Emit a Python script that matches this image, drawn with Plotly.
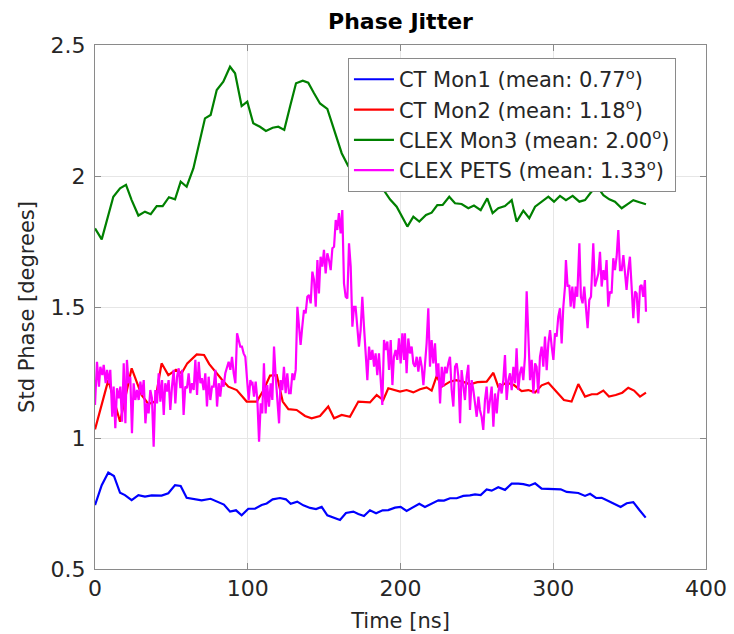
import plotly.graph_objects as go

# ---------------- data ----------------
mon1_t = [0, 4.4, 8.7, 12.4, 16.4, 19.6, 24, 28.4, 32.7, 37.1, 43.6, 48, 52.4, 56.1, 60,
          64.4, 69.8, 75.7, 80.7, 84.4, 88.4, 92.3, 96, 100.4, 104.7, 109.1, 112.4, 116.3,
          121.1, 125, 128.1, 132.4, 136.4, 140.8, 144.7, 148.4, 152.1, 156.5, 160.4, 164.3,
          169.1, 172.4, 176.1, 180, 184, 188.3, 192, 196.4, 200.1, 204, 208.4, 212.3, 216,
          220.4, 224.8, 228.5, 232.4, 236.8, 241.1, 245.5, 248.8, 252.5, 256.4, 259.7, 264,
          268.4, 272.8, 277.1, 280.4, 284.3, 288.1, 292.4, 296.8, 300.5, 304.9, 308.8, 313.2,
          316.4, 320.8, 324.1, 328, 331.7, 336.1, 340.5, 344.1, 348.1, 352.4, 356.4, 360.5]
mon1_v = [0.744, 0.82, 0.868, 0.855, 0.791, 0.782, 0.763, 0.782, 0.776, 0.781, 0.78, 0.789,
          0.82, 0.817, 0.772, 0.768, 0.762, 0.768, 0.755, 0.746, 0.719, 0.724, 0.705, 0.73,
          0.73, 0.744, 0.75, 0.766, 0.771, 0.766, 0.749, 0.757, 0.743, 0.733, 0.729, 0.737,
          0.705, 0.694, 0.687, 0.714, 0.719, 0.71, 0.702, 0.724, 0.713, 0.724, 0.725, 0.734,
          0.737, 0.722, 0.735, 0.749, 0.737, 0.749, 0.762, 0.761, 0.77, 0.77, 0.779, 0.781,
          0.785, 0.782, 0.804, 0.799, 0.812, 0.802, 0.826, 0.826, 0.824, 0.818, 0.827, 0.807,
          0.805, 0.804, 0.804, 0.794, 0.791, 0.79, 0.779, 0.787, 0.771, 0.772, 0.76, 0.748,
          0.737, 0.751, 0.755, 0.725, 0.696]

mon2_t = [0, 8.7, 16.4, 24, 30.5, 34.9, 39.3, 43.6, 48, 53, 56.7, 60.4, 66.6, 71.4, 74.8,
          78.6, 82.9, 87.3, 92.8, 99.3, 105.9, 110.2, 114.6, 119, 122.9, 126.6, 132, 137.5,
          141.8, 147.3, 152.7, 156.5, 161.5, 166.9, 172.4, 180, 184.4, 188.7, 192, 199.7, 204,
          208.4, 212.8, 217.1, 220.4, 223.7, 227, 232.4, 236.3, 240.7, 245.5, 250.3, 256.4,
          260.8, 264, 269.5, 274.3, 279.3, 283.7, 288.1, 292.4, 296.8, 302.3, 307, 312, 316.4,
          320.8, 325.2, 328.8, 332.8, 336.5, 340.9, 345.2, 349.1, 352.9, 356.8, 360.7]
mon2_v = [1.033, 1.221, 1.062, 1.266, 1.164, 1.130, 1.139, 1.285, 1.240, 1.260, 1.247, 1.285,
          1.319, 1.317, 1.282, 1.253, 1.224, 1.196, 1.183, 1.139, 1.139, 1.181, 1.238, 1.240,
          1.139, 1.110, 1.107, 1.084, 1.075, 1.084, 1.120, 1.075, 1.088, 1.081, 1.139, 1.136,
          1.164, 1.145, 1.190, 1.177, 1.183, 1.174, 1.186, 1.193, 1.181, 1.237, 1.196, 1.215,
          1.221, 1.215, 1.205, 1.213, 1.215, 1.249, 1.196, 1.211, 1.202, 1.179, 1.183, 1.174,
          1.201, 1.211, 1.177, 1.145, 1.139, 1.206, 1.158, 1.167, 1.167, 1.181, 1.158, 1.164,
          1.173, 1.192, 1.181, 1.158, 1.173]

mon3_t = [0, 4.4, 12, 16.4, 20.3, 24, 28.4, 32.7, 36.5, 40.4, 44.3, 48.4, 52.4, 56.1, 60,
          64.4, 72, 75.7, 79.7, 84, 88.4, 91.7, 96, 99.7, 103.6, 108, 111.9, 116.3, 120, 123.9,
          127.7, 131.6, 136, 139.6, 143.4, 147.3, 152.1, 157.1, 161.5, 165.8, 172, 180, 184.4,
          188.7, 193.1, 197.5, 204.5, 208.4, 212.3, 216.7, 220.4, 224.1, 227.6, 231.9, 235.7,
          240, 244.4, 248.1, 252.5, 256.8, 260.3, 264, 268.4, 272.8, 276, 280.4, 284.3, 288.1,
          292.4, 296.8, 300.5, 304.4, 308.3, 312.7, 317.1, 320.8, 324.5, 328.4, 332.8, 336.7,
          340.4, 344.8, 348.7, 352.4, 356.4, 360.7]
mon3_v = [1.800, 1.758, 1.921, 1.953, 1.966, 1.908, 1.849, 1.864, 1.854, 1.885, 1.885, 1.919,
          1.911, 1.978, 1.959, 2.029, 2.220, 2.233, 2.328, 2.360, 2.417, 2.392, 2.267, 2.284,
          2.201, 2.188, 2.172, 2.184, 2.188, 2.176, 2.265, 2.354, 2.364, 2.356, 2.316, 2.277,
          2.256, 2.163, 2.087, 2.038, 2.0, 1.959, 1.944, 1.949, 1.911, 1.883, 1.807, 1.845,
          1.826, 1.851, 1.860, 1.889, 1.890, 1.921, 1.896, 1.893, 1.877, 1.887, 1.870, 1.915,
          1.858, 1.877, 1.885, 1.908, 1.826, 1.868, 1.839, 1.883, 1.902, 1.921, 1.902, 1.924,
          1.908, 1.924, 1.902, 1.908, 1.936, 1.963, 1.927, 1.911, 1.902, 1.877, 1.893, 1.908,
          1.900, 1.892]

pets_samples = [
    (0, 1.126), (1.3, 1.291), (2.6, 1.196), (3.5, 1.272), (4.8, 1.240), (5.7, 1.279), (7.0, 1.209),
    (7.9, 1.260), (9.2, 1.209), (10.0, 1.260), (11.3, 1.081), (12.2, 1.196), (13.3, 1.037),
    (14.4, 1.190), (15.5, 1.151), (16.6, 1.196), (17.7, 1.062), (18.8, 1.285), (19.9, 1.056),
    (20.9, 1.298), (22.0, 1.209), (23.1, 1.234), (24.2, 1.018), (25.3, 1.209), (26.4, 1.145),
    (27.5, 1.183), (28.6, 1.145), (29.7, 1.215), (30.8, 1.164), (31.9, 1.221), (33.0, 1.056),
    (34.0, 1.132), (35.1, 1.094), (36.2, 1.183), (37.3, 1.151), (38.4, 0.967), (39.5, 1.183),
    (40.6, 1.132), (41.7, 1.247), (42.8, 1.139), (43.9, 1.221), (45.0, 1.088), (46.0, 1.209),
    (47.1, 1.177), (48.2, 1.221), (49.3, 1.107), (50.4, 1.196), (51.5, 1.260), (52.6, 1.132),
    (53.7, 1.234), (54.8, 1.266), (55.9, 1.190), (57.0, 1.260), (58.0, 1.088), (59.1, 1.196),
    (60.2, 1.190), (61.3, 1.247), (62.4, 1.171), (63.5, 1.209), (64.6, 1.183), (65.7, 1.298),
    (66.8, 1.164), (67.9, 1.291), (69.0, 1.209), (70.0, 1.228), (71.1, 1.183), (72.2, 1.247),
    (73.3, 1.120), (74.4, 1.234), (75.5, 1.145), (76.6, 1.196), (77.7, 1.196), (78.8, 1.260),
    (79.9, 1.120), (81.0, 1.209), (82.0, 1.158), (83.1, 1.221), (84.2, 1.196), (85.3, 1.247),
    (86.4, 1.266), (87.5, 1.291), (88.6, 1.260), (89.7, 1.310), (90.8, 1.247), (91.9, 1.209),
    (93.0, 1.400), (94.1, 1.374), (95.1, 1.349), (96.2, 1.349), (97.3, 1.323), (98.4, 1.310),
    (99.5, 1.234), (100.6, 1.145), (101.7, 1.221), (102.8, 1.202),
    (103.0, 1.215), (104.1, 1.158), (105.2, 1.215), (106.3, 1.145), (107.4, 0.986), (108.5, 1.132),
    (109.5, 1.094), (110.6, 1.285), (111.7, 1.094), (112.8, 1.202), (113.9, 1.120), (115.0, 1.209),
    (116.1, 1.145), (117.2, 1.349), (118.3, 1.234), (119.4, 1.145), (120.5, 1.056), (121.5, 1.221),
    (122.6, 1.183), (123.7, 1.272), (124.8, 1.171), (125.9, 1.247), (127.0, 1.171), (128.1, 1.171),
    (129.2, 1.247), (130.3, 1.221), (131.4, 1.260), (132.5, 1.501), (133.6, 1.425), (134.6, 1.355),
    (135.7, 1.425), (136.8, 1.488), (137.9, 1.476), (139.0, 1.539), (140.1, 1.546), (141.2, 1.514),
    (142.3, 1.635), (143.4, 1.603), (144.5, 1.501), (145.6, 1.679), (146.6, 1.552), (147.7, 1.692),
    (148.8, 1.654), (149.9, 1.718), (151.0, 1.628), (152.1, 1.705), (153.2, 1.679), (154.3, 1.641),
    (155.4, 1.724), (156.5, 1.730), (157.6, 1.832), (158.6, 1.794), (159.7, 1.858), (160.8, 1.781),
    (161.9, 1.870), (163.0, 1.590), (164.1, 1.539), (165.2, 1.533), (166.3, 1.743), (167.4, 1.654),
    (168.5, 1.425), (169.6, 1.501), (170.6, 1.501), (171.7, 1.425), (172.8, 1.349), (173.9, 1.412),
    (175.0, 1.539), (176.1, 1.425), (177.2, 1.336), (178.3, 1.221), (179.4, 1.349), (180.5, 1.298),
    (181.6, 1.336), (182.7, 1.272), (183.7, 1.323), (184.8, 1.240), (185.9, 1.323), (187.0, 1.234),
    (188.1, 1.126), (189.2, 1.374), (190.3, 1.336), (191.4, 1.368), (192.5, 1.260), (193.6, 1.374),
    (194.7, 1.202), (195.7, 1.310), (196.8, 1.336), (197.9, 1.298), (199.0, 1.380), (200.1, 1.285),
    (201.2, 1.400), (202.3, 1.298),
    (202.9, 1.400), (204.0, 1.247), (205.1, 1.380), (206.2, 1.323), (207.3, 1.349), (208.4, 1.285),
    (209.5, 1.272), (210.6, 1.310), (211.7, 1.253), (212.8, 1.310), (213.9, 1.272), (215.0, 1.202),
    (216.0, 1.285), (217.1, 1.361), (218.2, 1.495), (219.3, 1.272), (220.4, 1.374), (221.5, 1.285),
    (222.6, 1.361), (223.7, 1.234), (224.8, 1.285), (225.9, 1.132), (227.0, 1.272), (228.0, 1.196),
    (229.1, 1.272), (230.2, 1.247), (231.3, 1.285), (232.4, 1.310), (233.5, 1.183), (234.6, 1.120),
    (235.7, 1.272), (236.8, 1.285), (237.9, 1.234), (239.0, 1.056), (240.0, 1.259), (241.1, 1.196),
    (242.2, 1.145), (243.3, 1.234), (244.4, 1.279), (245.5, 1.107), (246.6, 1.221), (247.7, 1.183),
    (248.8, 1.132), (249.9, 1.081), (251.0, 1.158), (252.0, 1.107), (253.1, 1.081), (254.2, 1.031),
    (255.3, 1.145), (256.4, 1.196), (257.5, 1.094), (258.6, 1.145), (259.7, 1.196), (260.8, 1.043),
    (261.9, 1.170), (263.0, 1.094), (264.0, 1.170), (265.1, 1.209), (266.2, 1.170), (267.3, 1.221),
    (268.4, 1.317), (269.5, 1.145), (270.6, 1.221), (271.7, 1.247), (272.8, 1.183), (273.9, 1.272),
    (275.0, 1.209), (276.0, 1.342), (277.1, 1.183), (278.2, 1.247), (279.3, 1.272), (280.4, 1.221),
    (281.5, 1.310), (282.6, 1.560), (283.7, 1.374), (284.8, 1.221), (285.9, 1.298), (287.0, 1.170),
    (288.1, 1.285), (289.1, 1.272), (290.2, 1.170), (291.3, 1.310), (292.4, 1.349), (293.5, 1.272),
    (294.6, 1.387), (295.7, 1.259), (296.8, 1.361), (297.9, 1.412), (299.0, 1.349), (300.1, 1.298),
    (301.2, 1.400), (302.2, 1.387),
    (303.3, 1.463), (304.4, 1.495), (305.5, 1.361), (306.6, 1.501), (307.7, 1.578), (308.3, 1.679),
    (309.4, 1.578), (310.5, 1.584), (311.4, 1.501), (312.5, 1.578), (313.6, 1.495), (314.7, 1.578),
    (315.7, 1.539), (317.1, 1.743), (318.1, 1.539), (319.2, 1.514), (320.3, 1.578), (321.4, 1.501),
    (322.5, 1.419), (323.6, 1.527), (324.7, 1.539), (326.2, 1.743), (327.3, 1.578), (328.4, 1.603),
    (329.5, 1.628), (330.6, 1.711), (331.7, 1.578), (332.8, 1.641), (333.9, 1.603), (334.9, 1.679),
    (336.0, 1.501), (337.1, 1.559), (338.2, 1.552), (339.3, 1.686), (340.4, 1.641), (341.5, 1.692),
    (342.6, 1.794), (343.7, 1.641), (344.8, 1.641), (345.9, 1.698), (346.9, 1.641), (348.0, 1.565),
    (349.1, 1.641), (350.2, 1.692), (351.3, 1.578), (352.4, 1.457), (353.5, 1.559), (354.6, 1.552),
    (355.7, 1.438), (356.8, 1.578), (357.8, 1.584), (358.9, 1.539), (360.0, 1.603), (360.7, 1.482),
]
pets_t = [p[0] for p in pets_samples]
pets_v = [p[1] for p in pets_samples]

series_names = [
    "CT Mon1 (mean: 0.77<sup>o</sup>)",
    "CT Mon2 (mean: 1.18<sup>o</sup>)",
    "CLEX Mon3 (mean: 2.00<sup>o</sup>)",
    "CLEX PETS (mean: 1.33<sup>o</sup>)",
]
series_colors = ["#0000ff", "#ff0000", "#008000", "#ff00ff"]
x_ticks = [0, 100, 200, 300, 400]
y_ticks = [0.5, 1, 1.5, 2, 2.5]
y_tick_text = ["0.5", "1", "1.5", "2", "2.5"]

FONT = "DejaVu Sans"
TXT = "#262626"
AX = "#8a8a8a"

fig = go.Figure()
for i, (t, v) in enumerate([(mon1_t, mon1_v), (mon2_t, mon2_v),
                            (mon3_t, mon3_v), (pets_t, pets_v)]):
    fig.add_trace(go.Scatter(
        x=t, y=v, mode="lines", name=series_names[i],
        line=dict(color=series_colors[i], width=2.2),
    ))

fig.update_layout(
    width=734, height=634,
    margin=dict(l=95, r=28, t=45, b=65),
    paper_bgcolor="white", plot_bgcolor="white",
    font=dict(family=FONT, size=22, color=TXT),
    title=dict(text="<b>Phase Jitter</b>", x=0.5, xref="paper", xanchor="center",
               y=1 - 21 / 634, yref="container", yanchor="middle",
               font=dict(family=FONT, size=22, color="black")),
    showlegend=True,
    legend=dict(x=0.414, y=0.975, xanchor="left", yanchor="top",
                bgcolor="white", bordercolor=AX, borderwidth=1,
                font=dict(family=FONT, size=21, color=TXT),
                itemwidth=40),
)
fig.update_xaxes(
    range=[0, 400], tickvals=x_ticks, ticktext=[str(v) for v in x_ticks],
    showline=True, linecolor=AX, linewidth=1, mirror="ticks",
    ticks="inside", ticklen=6, tickcolor=AX, automargin=False,
    showgrid=True, gridcolor="#e6e6e6", gridwidth=1, zeroline=False,
    tickfont=dict(family=FONT, size=22, color=TXT),
    title=dict(text="Time [ns]", font=dict(family=FONT, size=21, color=TXT), standoff=12),
)
fig.update_yaxes(
    range=[0.5, 2.5], tickvals=y_ticks, ticktext=y_tick_text,
    showline=True, linecolor=AX, linewidth=1, mirror="ticks",
    ticks="inside", ticklen=6, tickcolor=AX, automargin=False,
    showgrid=True, gridcolor="#e6e6e6", gridwidth=1, zeroline=False,
    tickfont=dict(family=FONT, size=22, color=TXT),
    ticklabelstandoff=4,
    title=dict(text="Std Phase [degrees]", font=dict(family=FONT, size=21, color=TXT), standoff=10),
)

fig.write_html("out.html")
